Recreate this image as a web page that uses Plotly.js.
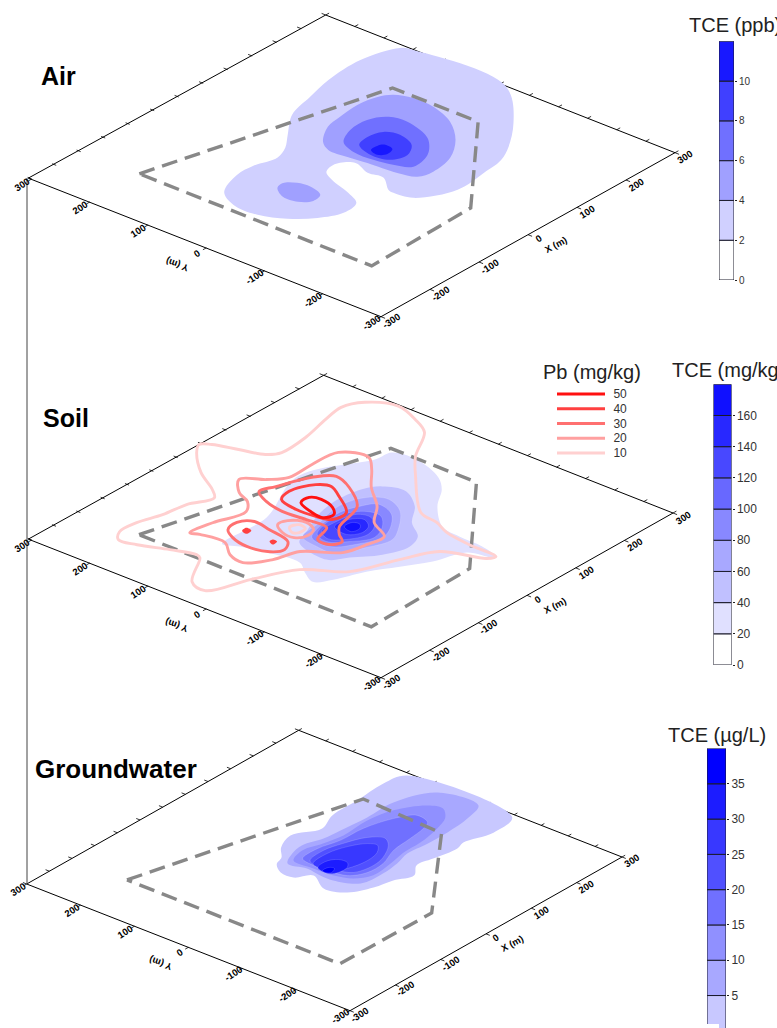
<!DOCTYPE html>
<html><head><meta charset="utf-8">
<script src="https://cdn.plot.ly/plotly-3.0.1.min.js"></script>
<style>html,body{margin:0;padding:0;background:#fff;overflow:hidden}#c{width:777px;height:1028px}</style>
</head><body><div id="c"></div>
<script>
// All contour vertices are [X metres, Y metres].
const site = [[-198,201],[200,101],[200,-46],[9,-194],[-199,-199]];
const gwSite = [[-200,198],[200,96],[192,-56],[-1,-200],[-201,-198]];

// Air TCE (ppb)
const airLevels = [0,2,4,6,8,10];
const airColors = ['#FFFFFF','#D0D0FF','#A0A0FF','#7070FF','#4040FF','#1818FF'];
const air2 = [[-165,83],[-117,101],[-85,101],[-47,91],[-19,101],[11,122],[58,154],[111,168],[163,180],[233,184],[292,166],[299,149],[300,-9],[227,-84],[146,-135],[95,-144],[37,-148],[-18,-118],[-24,-89],[-22,-79],[0,-52],[-3,-27],[8,3],[-15,22],[-36,16],[-48,-4],[-61,-41],[-77,-70],[-109,-75],[-142,-58],[-169,-29],[-186,8],[-185,50]];
const air4a = [[26,74],[62,96],[94,102],[134,106],[168,100],[186,88],[196,62],[194,26],[176,-18],[142,-56],[99,-83],[55,-91],[31,-84],[22,-57],[18,-9],[14,22],[13,54]];
const air4b = [[-111,37],[-96,40],[-84,26],[-81,5],[-90,-19],[-109,-23],[-124,-9],[-126,15]];
const air6 = [[43,53],[75,68],[110,69],[135,53],[140,25],[127,-17],[113,-35],[86,-55],[49,-62],[36,-38],[30,-9],[30,25]];
const air8 = [[50,32],[74,38],[98,31],[106,9],[94,-21],[69,-35],[44,-26],[38,3]];
const air10 = [[49,11],[63,12],[72,6],[69,-9],[54,-13],[44,-4]];

// Soil TCE (mg/kg)
const soilLevels = [0,20,40,60,80,100,120,140,160];
const soilColors = ['#FFFFFF','#E0E0FF','#C0C0FF','#A8A8FF','#8888FF','#6868FF','#4848FF','#2828FF','#1010FF'];
const soil20 = [[-147,101],[-53,103],[58,145],[164,97],[192,93],[198,56],[178,1],[155,-24],[115,-50],[76,-91],[69,-126],[67,-167],[57,-199],[52,-197],[41,-162],[-7,-144],[-46,-120],[-85,-95],[-130,-76],[-152,-59],[-139,-35],[-122,-12],[-128,40],[-138,78]];
const soil40 = [[111,42],[121,9],[96,-27],[59,-53],[34,-84],[5,-94],[-35,-81],[-69,-53],[-93,-33],[-79,25],[-52,36],[-11,53],[35,63],[88,57]];
const soil60 = [[39,50],[74,38],[89,11],[73,-21],[32,-52],[6,-64],[-33,-52],[-73,-27],[-73,0],[-64,32],[-19,40],[11,48]];
const soil80 = [[19,38],[49,29],[70,13],[59,-18],[25,-43],[2,-50],[-31,-38],[-62,-13],[-58,21],[-28,33]];
const soil100 = [[-19,32],[17,32],[44,13],[46,-11],[23,-32],[-5,-42],[-35,-24],[-54,-1],[-47,21]];
const soil120 = [[-37,22],[-3,25],[29,18],[35,-3],[19,-22],[-4,-30],[-33,-17],[-47,3]];
const soil140 = [[-15,18],[12,16],[25,0],[14,-16],[-4,-21],[-22,-8]];
const soil160 = [[-7,8],[9,7],[11,-4],[2,-11],[-12,-8]];

// Soil Pb (mg/kg) contour lines
const pbLevels = [10,20,30,40,50];
const pbColors = ['#FFD0D0','#FFA0A0','#FF7070','#FF4040','#FF1010'];
const pb10a = [[46,302],[57,289],[69,253],[81,217],[99,204],[152,207],[207,219],[246,225],[277,210],[297,169],[283,129],[263,96],[204,62],[161,26],[88,-44],[80,-78],[67,-106],[60,-150],[57,-199],[45,-193],[20,-133],[-31,-107],[-99,-78],[-137,-24],[-200,8],[-262,34],[-254,63],[-196,98],[-192,107],[-204,143],[-221,185],[-226,213],[-208,226],[-174,225],[-135,213],[-93,207],[-55,191],[-39,208],[-12,250],[27,290]];
const pb10b = [[-55,62],[-41,57],[-44,44],[-58,43],[-64,50]];
const pb20a = [[-151,153],[-110,148],[-58,134],[-35,151],[-23,175],[5,199],[28,171],[52,152],[99,152],[147,147],[162,107],[139,83],[100,51],[64,11],[27,-15],[6,-50],[-27,-47],[-64,-37],[-98,8],[-138,21],[-170,46],[-164,73],[-142,100],[-146,140]];
const pb20b = [[-59,79],[-42,76],[-30,54],[-39,34],[-57,29],[-73,39],[-72,60]];
const pb30a = [[-4,157],[21,149],[71,129],[94,106],[81,73],[47,31],[-11,13],[-28,-1],[-41,-17],[-58,-9],[-57,12],[-24,24],[-24,59],[-27,98],[-19,132]];
const pb30b = [[-112,120],[-89,124],[-72,108],[-77,78],[-87,38],[-107,27],[-124,38],[-132,71],[-125,101]];
const pb40a = [[-2,120],[22,127],[59,112],[68,93],[53,67],[25,31],[-2,33],[-9,54],[-11,87]];
const pb40b = [[-102,104],[-92,105],[-94,95],[-105,94]];
const pb40c = [[-102,57],[-95,57],[-96,49],[-106,48]];
const pb50a = [[8,95],[26,96],[32,80],[24,54],[10,40],[-6,46],[-4,66]];

// Groundwater TCE (ug/L)
const gwLevels = [0,5,10,15,20,25,30,35];
const gwColors = ['#C8C8FF','#A8A8FF','#9090FF','#7070FF','#5050FF','#3838FF','#1C1CFF','#0000FF'];
const gw1 = [[-29,64],[-9,72],[14,92],[50,105],[95,84],[134,98],[191,100],[254,104],[294,93],[292,-103],[240,-112],[190,-98],[171,-103],[126,-96],[95,-91],[70,-108],[39,-95],[5,-87],[-30,-68],[-42,-34],[-21,2],[-44,20],[-44,44]];
const gw2 = [[-17,54],[10,68],[38,73],[73,63],[107,60],[161,56],[219,56],[282,27],[289,-43],[249,-56],[199,-61],[155,-61],[114,-58],[82,-66],[46,-70],[3,-65],[-15,-29],[-15,-5],[-11,23]];
const gw3 = [[-5,53],[26,63],[61,54],[98,47],[154,50],[201,41],[243,13],[250,-10],[231,-30],[199,-42],[151,-51],[113,-52],[76,-59],[33,-63],[8,-47],[-3,-20],[-5,16]];
const gw4 = [[8,47],[44,50],[84,41],[132,39],[182,25],[211,5],[204,-20],[186,-27],[151,-32],[108,-37],[69,-51],[34,-51],[9,-35],[3,-3],[2,22]];
const gw5 = [[10,35],[45,40],[79,32],[115,17],[129,-5],[115,-22],[83,-39],[56,-44],[22,-36],[10,-8],[2,12]];
const gw6 = [[6,26],[42,30],[76,21],[101,5],[106,-10],[89,-23],[62,-28],[25,-21],[5,-7],[1,8]];
const gw7 = [[1,13],[22,16],[38,6],[39,-10],[28,-19],[8,-19],[-4,-9]];
const gw8 = [[-2,2],[11,1],[14,-7],[2,-12],[-4,-5]];

const axisTicks = [-300,-200,-100,0,100,200,300];
const minorTicks = [-300,-250,-200,-150,-100,-50,0,50,100,150,200,250,300];

// Screen placement of the three oblique map planes
const panels = {
  air:  {bottom:[381,316.7], right:[675,152.7], left:[31.7,179], frameLeft:[-301,305]},
  soil: {bottom:[381,677.7], right:[673,513],   left:[31.7,540], frameLeft:[-301,305]},
  gw:   {bottom:[350,1010.7], right:[622,857],  left:[26.7,884], frameLeft:[-300,300]}
};
function project(p,X,Y){
  const ux=(p.right[0]-p.bottom[0])/600, uy=(p.right[1]-p.bottom[1])/600;
  const vx=(p.left[0]-p.bottom[0])/600,  vy=(p.left[1]-p.bottom[1])/600;
  return [p.bottom[0]+ux*(X+300)+vx*(Y+300), p.bottom[1]+uy*(X+300)+vy*(Y+300)];
}
function projPath(p,pts,close){
  const a = close ? pts.concat([pts[0]]) : pts;
  const xs=[],ys=[];
  a.forEach(q=>{ if(q===null){xs.push(null);ys.push(null);} else {const r=project(p,q[0],q[1]);xs.push(r[0]);ys.push(r[1]);} });
  return {x:xs,y:ys};
}
const traces=[];
function addFill(p,pts,color,lineColor){
  const c=projPath(p,pts,true);
  traces.push({type:'scatter',mode:'lines',x:c.x,y:c.y,fill:'toself',fillcolor:color,
    line:{color:lineColor||color,width:lineColor?0.5:0,shape:'spline',smoothing:1},showlegend:false,hoverinfo:'skip'});
}
function addSite(p,pts){
  const c=projPath(p,pts,true);
  traces.push({type:'scatter',mode:'lines',x:c.x,y:c.y,line:{color:'#888888',width:3.4,dash:'16px,8px'},showlegend:false,hoverinfo:'skip'});
}
function addPb(p,pts,color){
  const c=projPath(p,pts,true);
  traces.push({type:'scatter',mode:'lines',x:c.x,y:c.y,showlegend:false,
    line:{color:color,width:2.9,shape:'spline',smoothing:1},hoverinfo:'skip'});
}
const annotations=[];
function label(x,y,text,size,angle,extra){
  annotations.push(Object.assign({xref:'x',yref:'y',x:x,y:y,text:text,showarrow:false,textangle:angle||0,
    font:{family:'Liberation Sans, Arial, sans-serif',size:size,color:'#000'}},extra||{}));
}
function addAxes(p){
  const frame=projPath(p,[p.frameLeft,[-300,-300],[300,-300],[300,300],p.frameLeft],false);
  traces.push({type:'scatter',mode:'lines',x:frame.x,y:frame.y,line:{color:'#000',width:1},showlegend:false,hoverinfo:'skip'});
  const t=[];
  minorTicks.forEach(v=>{ t.push([v,300],[v,307],null); t.push([300,v],[307,v],null); });
  axisTicks.forEach(v=>{ t.push([v,-300],[v,-307],null); t.push([-300,v],[-307,v],null); });
  const tp=projPath(p,t,false);
  traces.push({type:'scatter',mode:'lines',x:tp.x,y:tp.y,line:{color:'#000',width:0.8},showlegend:false,hoverinfo:'skip'});
  axisTicks.forEach(v=>{
    let r=project(p,-320,v); label(r[0],r[1],'<b>'+v+'</b>',9.5,-33);
    r=project(p,v,-318); label(r[0],r[1],'<b>'+v+'</b>',9.5,-33);
  });
  let r=project(p,-361,0); label(r[0],r[1],'<b>Y (m)</b>',9.5,200);
  r=project(p,2,-346); label(r[0],r[1],'<b>X (m)</b>',9.5,-28);
}

// Air
addAxes(panels.air);
[air2,air4a,air4b,air6,air8,air10].forEach((pts,i)=>{
  const idx=[1,2,2,3,4,5][i]; addFill(panels.air,pts,airColors[idx]);
});
addSite(panels.air,site);

// Soil
addAxes(panels.soil);
[soil20,soil40,soil60,soil80,soil100,soil120,soil140,soil160].forEach((pts,i)=>
  addFill(panels.soil,pts,soilColors[i+1],i>1?'rgba(255,255,255,0.3)':null));
addSite(panels.soil,site);
addPb(panels.soil,pb10a,pbColors[0]);
addPb(panels.soil,pb20a,pbColors[1]);
addPb(panels.soil,pb20b,pbColors[1]);
addPb(panels.soil,pb10b,pbColors[0]);
addPb(panels.soil,pb30a,pbColors[2]);
addPb(panels.soil,pb30b,pbColors[2]);
addPb(panels.soil,pb40a,pbColors[3]);
addFill(panels.soil,pb40b,pbColors[3]);
addFill(panels.soil,pb40c,pbColors[3]);
addPb(panels.soil,pb50a,pbColors[4]);

// Groundwater
addAxes(panels.gw);
[gw1,gw2,gw3,gw4,gw5,gw6,gw7,gw8].forEach((pts,i)=>
  addFill(panels.gw,pts,gwColors[i],i>2?'rgba(255,255,255,0.3)':null));
addSite(panels.gw,gwSite);

// Colour bars as stacked bars on their own value axes
function addBar(n,levels,colors,step){
  traces.push({type:'bar',xaxis:'x'+n,yaxis:'y'+n,x:levels.map(()=>0),y:levels.map(()=>step),base:levels,width:1,
    marker:{color:colors,line:{color:'#1a1a2a',width:1}},showlegend:false,hoverinfo:'skip'});
}
addBar(2,airLevels,airColors,2);
addBar(3,soilLevels,soilColors,20);
addBar(4,gwLevels,gwColors,5);

// Pb key: one short line per level, on its own small axes
pbLevels.forEach((lvl,i)=>{
  traces.push({type:'scatter',mode:'lines',xaxis:'x5',yaxis:'y5',x:[0,1],y:[lvl,lvl],
    line:{color:pbColors[i],width:2.9},showlegend:false,hoverinfo:'skip'});
});

function barAxes(n,x0,x1,y0,y1,range,vals,size,extra){
  const xa={domain:[x0/777,x1/777],range:[-0.5,0.5],visible:false,fixedrange:true,anchor:'y'+n};
  const ya=Object.assign({anchor:'x'+n,domain:[1-y1/1028,1-y0/1028],range:range,side:'right',showgrid:false,zeroline:false,showline:false,
       tickvals:vals,ticks:'outside',ticklen:2,tickcolor:'#222',tickwidth:1,
       tickfont:{family:'Liberation Sans, Arial, sans-serif',size:size,color:'#333'},fixedrange:true},extra||{});
  return [xa,ya];
}
const b2=barAxes(2,719,734,41.3,280,[0,12],[0,2,4,6,8,10],10);
const b3=barAxes(3,713.5,731.5,384.3,665,[0,180],soilLevels,12);
const b4=barAxes(4,707,726,748.5,1028,[0.4,40],[5,10,15,20,25,30,35],12);
const b5=barAxes(5,557,605,386.6,460.4,[5,55],pbLevels,12,{ticklen:5,tickcolor:'rgba(0,0,0,0)'});
b5[0].range=[0,1];

const titleFont={family:'Liberation Sans, Arial, sans-serif',size:20,color:'#222'};
label(687,25,'TCE (ppb)',20,0,{xanchor:'left',font:titleFont});
label(670,370,'TCE (mg/kg)',20,0,{xanchor:'left',font:titleFont});
label(666,735,'TCE (µg/L)',20,0,{xanchor:'left',font:titleFont});
label(541,372,'Pb (mg/kg)',20,0,{xanchor:'left',font:titleFont});
label(733,1027,'0',12,0,{yanchor:'top',font:{family:'Liberation Sans, Arial, sans-serif',size:12,color:'#333'}});
label(58,76,'<b>Air</b>',25,0);
label(66,418,'<b>Soil</b>',25,0);
label(115.5,769,'<b>Groundwater</b>',26,0);

const layout={
  width:777,height:1028,margin:{l:0,r:0,t:0,b:0,pad:0},paper_bgcolor:'#fff',plot_bgcolor:'rgba(0,0,0,0)',
  hovermode:false,barmode:'overlay',showlegend:false,
  xaxis:{domain:[0,1],range:[0,777],visible:false,fixedrange:true},
  yaxis:{domain:[0,1],range:[1028,0],visible:false,fixedrange:true},
  xaxis2:b2[0],yaxis2:b2[1],xaxis3:b3[0],yaxis3:b3[1],xaxis4:b4[0],yaxis4:b4[1],xaxis5:b5[0],yaxis5:b5[1],
  annotations:annotations,
  shapes:[
    {type:'line',xref:'x',yref:'y',x0:27,x1:27,y0:178,y1:884,line:{color:'#444',width:1}},
    {type:'rect',xref:'x',yref:'y',x0:705,x1:719,y0:1024,y1:1028,fillcolor:'#fff',line:{width:0},layer:'above'}
  ]
};
Plotly.newPlot('c',traces,layout,{staticPlot:true,displayModeBar:false});
</script></body></html>
